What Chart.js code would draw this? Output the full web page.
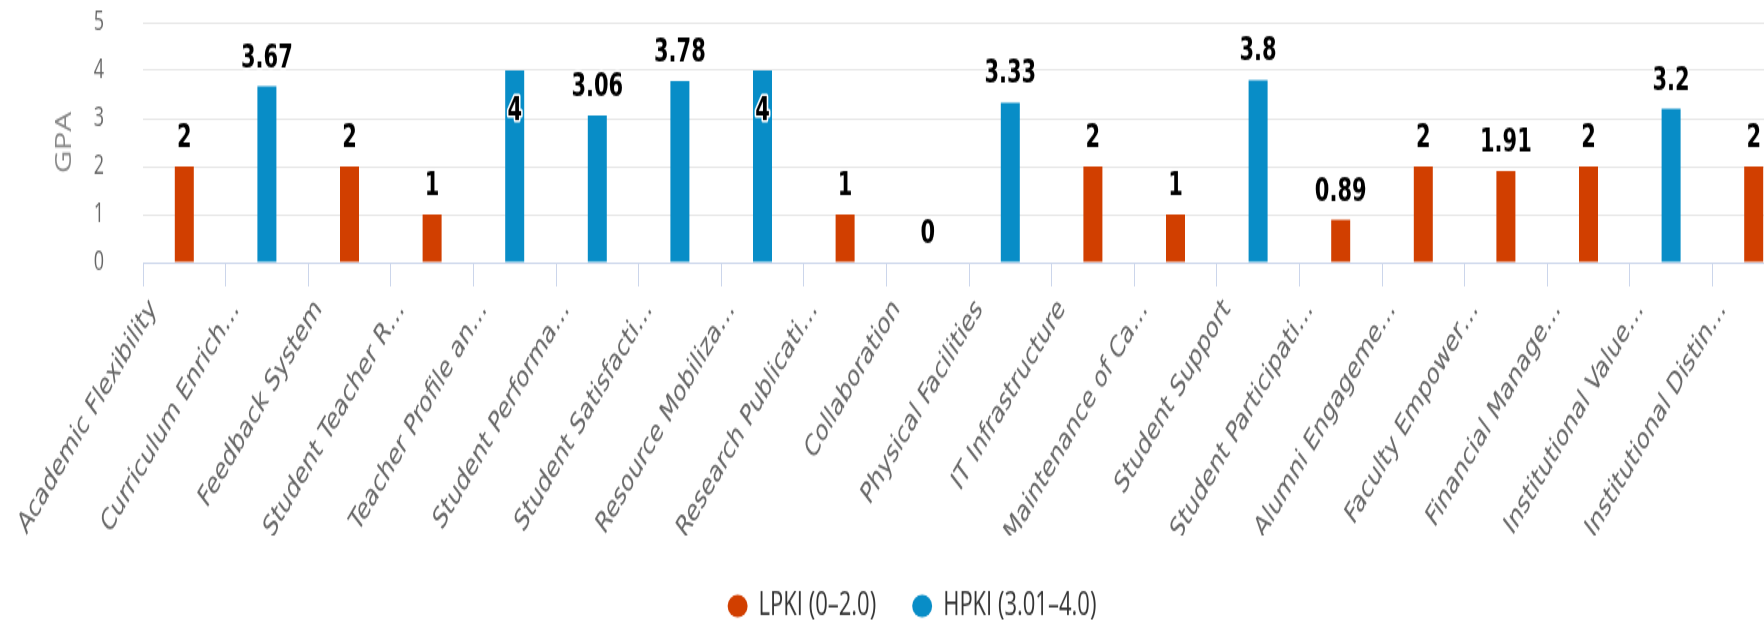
<!DOCTYPE html>
<html>
<head>
<meta charset="utf-8">
<title>GPA by key indicator</title>
<script src="https://cdn.jsdelivr.net/npm/chart.js@4.4.0/dist/chart.umd.min.js"></script>
<style>
  html, body { margin: 0; padding: 0; background: #fff; overflow: hidden; width: 1764px; height: 627px; }
  /* the source picture is stretched vertically, so the chart is drawn flat and scaled */
  #wrap { width: 1824px; height: 425px; transform: scaleY(1.5); transform-origin: 0 0; }
</style>
</head>
<body>
<div id="wrap"><canvas id="gpaChart" width="1824" height="425"></canvas></div>
<script>
const categories = [
  "Academic Flexibility", "Curriculum Enrich…", "Feedback System", "Student Teacher R…",
  "Teacher Profile an…", "Student Performa…", "Student Satisfacti…", "Resource Mobiliza…",
  "Research Publicati…", "Collaboration", "Physical Facilities", "IT Infrastructure",
  "Maintenance of Ca…", "Student Support", "Student Participati…", "Alumni Engageme…",
  "Faculty Empower…", "Financial Manage…", "Institutional Value…", "Institutional Distin…"
];
const lpkiValues = [2, null, 2, 1, null, null, null, null, 1, 0, null, 2, 1, null, 0.89, 2, 1.91, 2, null, 2];
const hpkiValues = [null, 3.67, null, null, 4, 3.06, 3.78, 4, null, null, 3.33, null, null, 3.8, null, null, null, null, 3.2, null];
const yTicks = [0, 1, 2, 3, 4, 5];

// value labels above each bar (tallest bars get it inside the top)
const valueLabels = {
  id: "valueLabels",
  afterDatasetsDraw(chart) {
    const ctx = chart.ctx;
    ctx.save();
    ctx.font = "bold 21px 'DejaVu Sans'";
    ctx.textAlign = "center";
    ctx.textBaseline = "alphabetic";
    ctx.lineJoin = "round";
    chart.data.datasets.forEach((ds, i) => {
      chart.getDatasetMeta(i).data.forEach((bar, j) => {
        const v = ds.data[j];
        if (v === null || v === undefined) return;
        const text = String(v);
        const y = v >= 4 ? bar.y + 33 : bar.y - 13;
        ctx.lineWidth = 3;
        ctx.strokeStyle = "#fff";
        ctx.strokeText(text, bar.x, y);
        ctx.fillStyle = "#000";
        ctx.fillText(text, bar.x, y);
      });
    });
    ctx.restore();
  }
};

const ctx = document.getElementById("gpaChart").getContext("2d");
new Chart(ctx, {
  type: "bar",
  data: {
    labels: categories,
    datasets: [
      {
        label: "LPKI (0–2.0)",
        data: lpkiValues,
        backgroundColor: "#d13f00",
        grouped: false,
        categoryPercentage: 1,
        barPercentage: 0.23
      },
      {
        label: "HPKI (3.01–4.0)",
        data: hpkiValues,
        backgroundColor: "#088dc7",
        grouped: false,
        categoryPercentage: 1,
        barPercentage: 0.23
      }
    ]
  },
  options: {
    responsive: false,
    animation: false,
    layout: { padding: { top: 15, right: 29, bottom: 0, left: 29 } },
    plugins: {
      tooltip: { enabled: false },
      legend: {
        position: "bottom",
        labels: {
          usePointStyle: true,
          pointStyle: "circle",
          pointStyleWidth: 20,
          boxHeight: 10.5,
          padding: 36,
          color: "#333",
          font: { family: "'Open Sans'", size: 22 }
        }
      }
    },
    scales: {
      x: {
        afterFit: (scale) => { scale.height = 182; },
        border: { color: "#ccd6eb", width: 1 },
        grid: { drawOnChartArea: false, drawTicks: true, tickLength: 16, color: "#ccd6eb" },
        ticks: {
          autoSkip: false,
          minRotation: 49,
          maxRotation: 49,
          padding: 4,
          labelOffset: -31,
          color: "#666",
          font: { family: "'DejaVu Sans'", size: 20 }
        }
      },
      y: {
        min: yTicks[0],
        max: yTicks[yTicks.length - 1],
        afterFit: (scale) => { scale.width = 114; },
        border: { display: false },
        grid: { color: "#e6e6e6", drawTicks: true, tickLength: 36, tickColor: "rgba(0,0,0,0)" },
        ticks: {
          stepSize: 1,
          padding: 3,
          color: "#666",
          font: { family: "'Open Sans'", size: 18 }
        },
        title: {
          display: true,
          text: "GPA",
          color: "#888",
          padding: { top: 23, bottom: 0 },
          font: { family: "'Open Sans'", size: 21 }
        }
      }
    }
  },
  plugins: [valueLabels]
});
</script>
</body>
</html>
